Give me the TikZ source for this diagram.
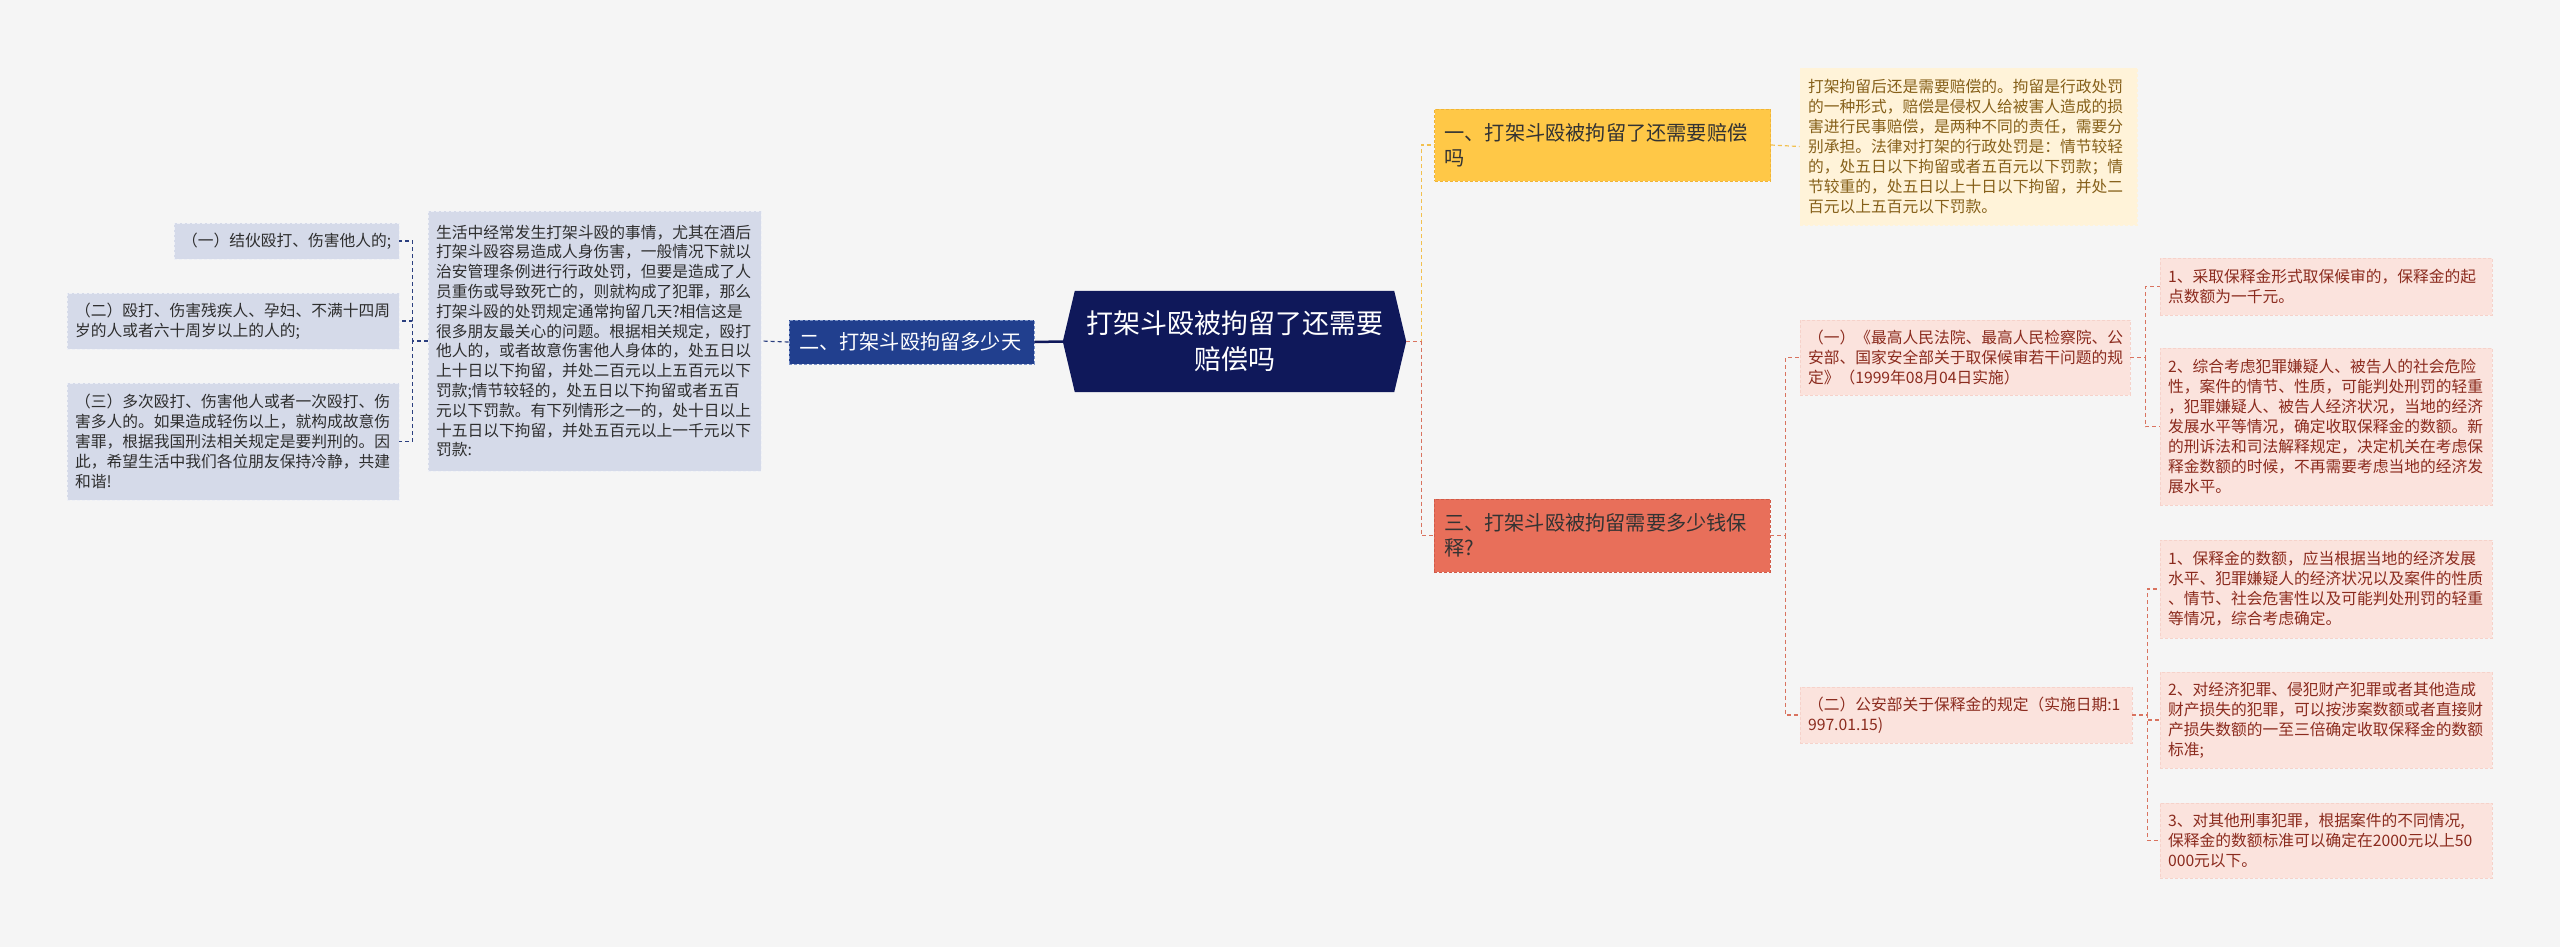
\documentclass[tikz,border=0pt]{standalone}
\usepackage{fontspec}
\setmainfont{Noto Sans CJK SC}
\usetikzlibrary{backgrounds}
\definecolor{pagebg}{HTML}{F5F5F5}
\definecolor{hexfill}{HTML}{0F185A}
\definecolor{navybox}{HTML}{213F8E}
\definecolor{navyedge}{HTML}{7C93C8}
\definecolor{navyline}{HTML}{2B3F7F}
\definecolor{lavfill}{HTML}{D5DAE9}
\definecolor{lavedge}{HTML}{EEF0F6}
\definecolor{lavtext}{HTML}{2E2E2E}
\definecolor{yelbox}{HTML}{FFC847}
\definecolor{yeledge}{HTML}{F0B436}
\definecolor{yelfill}{HTML}{FFF3D9}
\definecolor{yeltext}{HTML}{86601A}
\definecolor{yelline}{HTML}{F2C04E}
\definecolor{redbox}{HTML}{E86F5A}
\definecolor{rededge}{HTML}{D05A48}
\definecolor{pnkfill}{HTML}{FBE3DD}
\definecolor{pnkedge}{HTML}{F6D2CA}
\definecolor{pnktext}{HTML}{8B2B1E}
\definecolor{redline}{HTML}{D9735F}
\begin{document}
\begin{tikzpicture}[x=1pt,y=-1pt,
  blk/.style={rectangle, inner xsep=8pt, inner ysep=0pt, dash pattern=on 3pt off 2pt, line width=0.8pt, align=left},
  lav/.style={blk, fill=lavfill, draw=lavedge, text=lavtext, text width=316pt, font=\fontsize{15.75pt}{19.8pt}\selectfont},
  yel/.style={blk, fill=yelfill, draw=yelfill, text=yeltext, text width=321pt, font=\fontsize{15.75pt}{20pt}\selectfont},
  pnk/.style={blk, fill=pnkfill, draw=pnkedge, text=pnktext, text width=316pt, font=\fontsize{15.75pt}{20pt}\selectfont},
  branch/.style={blk, inner xsep=10pt, text width=316pt, font=\fontsize{20.2pt}{25pt}\selectfont},
  link/.style={line width=1.2pt, dash pattern=on 4pt off 3pt}]
\useasboundingbox (0,0) rectangle (2560,947);
\node[lav, text width=209pt, minimum width=225pt, minimum height=36pt] (L1) at (286.5,241) {（一）结伙殴打、伤害他人的;};
\node[lav, minimum width=332pt, minimum height=56pt] (L2) at (233,321) {（二）殴打、伤害残疾人、孕妇、不满十四周\\岁的人或者六十周岁以上的人的;};
\node[lav, minimum width=332pt, minimum height=117pt] (L3) at (233,441.5) {（三）多次殴打、伤害他人或者一次殴打、伤\\害多人的。如果造成轻伤以上，就构成故意伤\\害罪，根据我国刑法相关规定是要判刑的。因\\此，希望生活中我们各位朋友保持冷静，共建\\和谐!};
\node[lav, text width=317pt, minimum width=333pt, minimum height=260pt] (Lt) at (594.5,341) {生活中经常发生打架斗殴的事情，尤其在酒后\\打架斗殴容易造成人身伤害，一般情况下就以\\治安管理条例进行行政处罚，但要是造成了人\\员重伤或导致死亡的，则就构成了犯罪，那么\\打架斗殴的处罚规定通常拘留几天?相信这是\\很多朋友最关心的问题。根据相关规定，殴打\\他人的，或者故意伤害他人身体的，处五日以\\上十日以下拘留，并处二百元以上五百元以下\\罚款;情节较轻的，处五日以下拘留或者五百\\元以下罚款。有下列情形之一的，处十日以上\\十五日以下拘留，并处五百元以上一千元以下\\罚款:};
\node[branch, fill=navybox, draw=navyedge, text=white, text width=225pt, minimum width=245pt, minimum height=44pt] (B2) at (911.5,342) {二、打架斗殴拘留多少天};
\node[align=center, text=white, inner sep=0pt, minimum width=343pt, minimum height=101pt, font=\fontsize{27pt}{36pt}\selectfont] (C) at (1234.5,341.5) {打架斗殴被拘留了还需要\\赔偿吗};
\node[branch, fill=yelbox, draw=yeledge, text=black!80, minimum width=335pt, minimum height=72pt] (B1) at (1602.5,145) {一、打架斗殴被拘留了还需要赔偿\\吗};
\node[yel, minimum width=337pt, minimum height=157pt] (Yt) at (1968.5,146.5) {打架拘留后还是需要赔偿的。拘留是行政处罚\\的一种形式，赔偿是侵权人给被害人造成的损\\害进行民事赔偿，是两种不同的责任，需要分\\别承担。法律对打架的行政处罚是：情节较轻\\的，处五日以下拘留或者五百元以下罚款；情\\节较重的，处五日以上十日以下拘留，并处二\\百元以上五百元以下罚款。};
\node[branch, fill=redbox, draw=rededge, text=black!80, minimum width=336pt, minimum height=73pt] (B3) at (1602,535.5) {三、打架斗殴被拘留需要多少钱保\\释?};
\node[pnk, text width=314pt, minimum width=330pt, minimum height=75pt] (P1) at (1965,357.5) {（一）《最高人民法院、最高人民检察院、公\\安部、国家安全部关于取保候审若干问题的规\\定》（1999年08月04日实施）};
\node[pnk, minimum width=332pt, minimum height=56pt] (P2) at (1966,715) {（二）公安部关于保释金的规定（实施日期:1\\997.01.15)};
\node[pnk, minimum width=332pt, minimum height=57pt] (R1) at (2326,286.5) {1、采取保释金形式取保候审的，保释金的起\\点数额为一千元。};
\node[pnk, minimum width=332pt, minimum height=157pt] (R2) at (2326,426.5) {2、综合考虑犯罪嫌疑人、被告人的社会危险\\性，案件的情节、性质，可能判处刑罚的轻重\\，犯罪嫌疑人、被告人经济状况，当地的经济\\发展水平等情况，确定收取保释金的数额。新\\的刑诉法和司法解释规定，决定机关在考虑保\\释金数额的时候，不再需要考虑当地的经济发\\展水平。};
\node[pnk, minimum width=332pt, minimum height=98pt] (R3) at (2326,589) {1、保释金的数额，应当根据当地的经济发展\\水平、犯罪嫌疑人的经济状况以及案件的性质\\、情节、社会危害性以及可能判处刑罚的轻重\\等情况，综合考虑确定。};
\node[pnk, minimum width=332pt, minimum height=96pt] (R4) at (2326,720) {2、对经济犯罪、侵犯财产犯罪或者其他造成\\财产损失的犯罪，可以按涉案数额或者直接财\\产损失数额的一至三倍确定收取保释金的数额\\标准;};
\node[pnk, minimum width=332pt, minimum height=75pt] (R5) at (2326,840.5) {3、对其他刑事犯罪，根据案件的不同情况,\\保释金的数额标准可以确定在2000元以上50\\000元以下。};
\begin{scope}[on background layer]
\fill[pagebg] (0,0) rectangle (2560,947);
\fill[hexfill] (C.west) -- ([xshift=12pt]C.north west) -- ([xshift=-12pt]C.north east) -- (C.east) -- ([xshift=-12pt]C.south east) -- ([xshift=12pt]C.south west) -- cycle;
\end{scope}
\draw[hexfill, line width=2.5pt] (C.west) -- (B2.east);
\draw[link, navyline] (B2.west) -- (Lt.east);
\draw[link, navyline] (Lt.west) -- ++(-15,0) |- (L1.east);
\draw[link, navyline] (Lt.west) -- ++(-15,0) |- (L2.east);
\draw[link, navyline] (Lt.west) -- ++(-15,0) |- (L3.east);
\draw[link, yelline] (C.east) -- ++(15,0) |- (B1.west);
\draw[link, redline] (C.east) -- ++(15,0) |- (B3.west);
\draw[link, yelline] (B1.east) -- (Yt.west);
\draw[link, redline] (B3.east) -- ++(15,0) |- (P1.west);
\draw[link, redline] (B3.east) -- ++(15,0) |- (P2.west);
\draw[link, redline] (P1.east) -- ++(15,0) |- (R1.west);
\draw[link, redline] (P1.east) -- ++(15,0) |- (R2.west);
\draw[link, redline] (P2.east) -- ++(15,0) |- (R3.west);
\draw[link, redline] (P2.east) -- ++(15,0) |- (R4.west);
\draw[link, redline] (P2.east) -- ++(15,0) |- (R5.west);
\end{tikzpicture}
\end{document}
